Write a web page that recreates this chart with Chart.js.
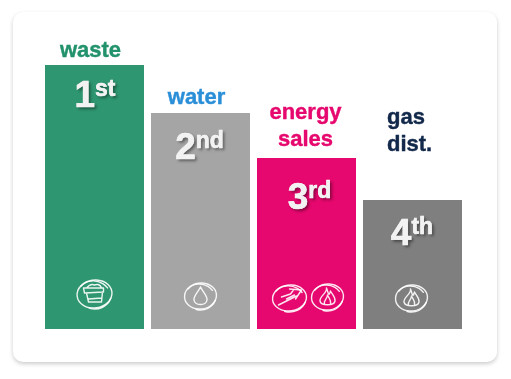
<!DOCTYPE html>
<html>
<head>
<meta charset="utf-8">
<style>
  html, body { margin: 0; padding: 0; background: #fff; }
  #card { position: absolute; left: 13px; top: 12px; width: 484px; height: 350px; background: #fff; border-radius: 10px; box-shadow: 0 2px 4px rgba(0,0,0,.2); }
  #wrap { position: absolute; left: 0; top: 0; width: 511px; height: 379px; }
</style>
<script src="https://cdn.jsdelivr.net/npm/chart.js@4"></script>
</head>
<body>
<div id="card"></div>
<div id="wrap"><canvas id="rank_chart" width="511" height="379"></canvas></div>
<script>
const categories = ['waste', 'water', 'energy sales', 'gas dist.']
const values = [100, 81.8, 64.8, 48.9]
const ranks = ['1', '2', '3', '4']
const rankSuffix = ['st', 'nd', 'rd', 'th']
const barColors = ['#2e9670', '#a5a5a5', '#e6086e', '#7f7f7f']
const nameColors = ['#22926c', '#2b8fd8', '#e6086e', '#13294b']

// label lines, and where they sit (x is from the bar centre, y is above the bar top)
const nameLines = [['waste'], ['water'], ['energy', 'sales'], ['gas', 'dist.']]
const nameOffset = [[-4, 8], [-4, 9], [-1, 12], [-25.5, 49]]
// rank text: shift from the bar centre, and baseline below the bar top
const rankShift = [0.5, -1, 3, -0.5]
const rankDrop = [42, 46, 51, 45]

function ring(ctx, cx, cy, rx, ry) {
  ctx.beginPath()
  ctx.ellipse(cx, cy, rx, ry, -0.12, 0.2, Math.PI * 2 + 0.6)
  ctx.stroke()
  ctx.beginPath()
  ctx.ellipse(cx - 0.5, cy + 0.5, rx - 1.5, ry - 0.5, 0.15, 3.6, 5.6)
  ctx.stroke()
  ctx.beginPath()
  ctx.ellipse(cx + 0.5, cy + 0.5, rx - 1, ry + 0.5, -0.1, 0.4, 2)
  ctx.stroke()
}

function pot(ctx, x, y) {
  ring(ctx, x, y, 17.5, 14)
  ctx.beginPath()
  ctx.moveTo(x - 11, y - 6)
  ctx.lineTo(x + 9, y - 6)
  ctx.lineTo(x + 9, y - 2)
  ctx.lineTo(x - 10, y - 1)
  ctx.closePath()
  ctx.moveTo(x - 8, y - 1)
  ctx.lineTo(x - 6, y + 8)
  ctx.lineTo(x + 7, y + 8)
  ctx.lineTo(x + 8, y - 2)
  ctx.moveTo(x - 6, y + 5)
  ctx.lineTo(x + 7, y + 4)
  ctx.moveTo(x - 8, y - 6)
  ctx.quadraticCurveTo(x - 4, y - 11, x, y - 9)
  ctx.quadraticCurveTo(x + 5, y - 11, x + 7, y - 6)
  ctx.stroke()
}

function drop(ctx, x, y) {
  ring(ctx, x, y, 16, 13)
  ctx.beginPath()
  ctx.moveTo(x, y - 9)
  ctx.bezierCurveTo(x - 3, y - 3, x - 7, y, x - 6.5, y + 4)
  ctx.bezierCurveTo(x - 5.5, y + 10, x + 5.5, y + 10, x + 6.5, y + 4)
  ctx.bezierCurveTo(x + 7, y, x + 3, y - 3, x, y - 9)
  ctx.stroke()
}

function flame(ctx, x, y) {
  ring(ctx, x, y, 16, 13)
  ctx.beginPath()
  ctx.moveTo(x - 1, y - 9)
  ctx.bezierCurveTo(x, y - 4, x - 8, y - 1, x - 7.5, y + 4)
  ctx.bezierCurveTo(x - 6.5, y + 9, x + 6.5, y + 9, x + 7.5, y + 4)
  ctx.bezierCurveTo(x + 8, y, x + 5, y - 2, x + 3, y - 6)
  ctx.quadraticCurveTo(x + 2, y - 2, x + 1, y - 3)
  ctx.quadraticCurveTo(x, y - 6, x - 1, y - 9)
  ctx.moveTo(x - 3, y + 7)
  ctx.bezierCurveTo(x - 4, y + 3, x, y + 2, x, y - 2)
  ctx.bezierCurveTo(x + 2, y + 2, x + 4, y + 3, x + 3, y + 7)
  ctx.stroke()
}

function arrows(ctx, x, y) {
  ring(ctx, x, y, 17, 13)
  ctx.beginPath()
  ctx.moveTo(x - 11, y + 7)
  ctx.lineTo(x + 7, y - 2)
  ctx.moveTo(x - 8, y - 1)
  ctx.lineTo(x + 1, y - 4)
  ctx.moveTo(x - 3, y + 1)
  ctx.lineTo(x + 5, y - 3)
  ctx.moveTo(x, y - 9)
  ctx.lineTo(x + 12, y - 8)
  ctx.lineTo(x + 6, y + 1)
  ctx.moveTo(x + 1, y - 4)
  ctx.lineTo(x + 4, y - 8)
  ctx.stroke()
}

// fill plus a hairline stroke, the source text is heavier than plain bold
function heavyText(ctx, text, x, y, weight) {
  ctx.lineWidth = weight
  ctx.strokeStyle = ctx.fillStyle
  ctx.fillText(text, x, y)
  ctx.strokeText(text, x, y)
}

const overlay = {
  id: 'overlay',
  afterDatasetsDraw(chart) {
    const ctx = chart.ctx
    const bars = chart.getDatasetMeta(0).data
    const bottom = chart.chartArea.bottom
    ctx.save()
    ctx.textBaseline = 'alphabetic'

    bars.forEach((bar, i) => {
      // names over the bars
      ctx.fillStyle = nameColors[i]
      ctx.font = 'bold 22px "Liberation Sans"'
      ctx.textAlign = i == 3 ? 'left' : 'center'
      nameLines[i].forEach((line, k) => {
        let n = nameLines[i].length - 1 - k
        heavyText(ctx, line, bar.x + nameOffset[i][0], bar.y - nameOffset[i][1] - n * 27, 0.4)
      })

      // the rank with raised suffix
      ctx.textAlign = 'left'
      ctx.fillStyle = '#f2f2f2'
      ctx.shadowColor = 'rgba(0,0,0,.45)'
      ctx.shadowBlur = 3
      ctx.shadowOffsetX = 2
      ctx.shadowOffsetY = 2
      ctx.font = 'bold 37px "Liberation Sans"'
      let w1 = ctx.measureText(ranks[i]).width
      ctx.font = 'bold 23px "Liberation Sans"'
      let w2 = ctx.measureText(rankSuffix[i]).width
      let start = bar.x + rankShift[i] - (w1 + w2) / 2
      ctx.font = 'bold 37px "Liberation Sans"'
      ctx.fillText(ranks[i], start, bar.y + rankDrop[i])
      ctx.font = 'bold 23px "Liberation Sans"'
      ctx.fillText(rankSuffix[i], start + w1, bar.y + rankDrop[i] - 11)
      ctx.shadowColor = 'transparent'
      ctx.shadowBlur = 0
      ctx.shadowOffsetX = 0
      ctx.shadowOffsetY = 0
      ctx.font = 'bold 37px "Liberation Sans"'
      heavyText(ctx, ranks[i], start, bar.y + rankDrop[i], 0.6)
      ctx.font = 'bold 23px "Liberation Sans"'
      heavyText(ctx, rankSuffix[i], start + w1, bar.y + rankDrop[i] - 11, 0.5)
    })

    // icons along the bottom of the bars
    ctx.strokeStyle = 'rgba(255,255,255,.9)'
    ctx.lineWidth = 1.4
    ctx.lineCap = 'round'
    ctx.lineJoin = 'round'
    pot(ctx, bars[0].x, bottom - 35)
    drop(ctx, bars[1].x, bottom - 33)
    arrows(ctx, bars[2].x - 17, bottom - 31)
    flame(ctx, bars[2].x + 21, bottom - 32)
    flame(ctx, bars[3].x - 1, bottom - 31)
    ctx.restore()
  }
}

const myChart = new Chart(document.getElementById('rank_chart'), {
  type: 'bar',
  data: {
    labels: categories,
    datasets: [{
      data: values,
      backgroundColor: barColors,
      barPercentage: 0.934,
      categoryPercentage: 1
    }]
  },
  options: {
    responsive: false,
    animation: false,
    layout: { padding: { left: 41.5, right: 45.5, top: 65, bottom: 50 } },
    plugins: { legend: { display: false }, tooltip: { enabled: false } },
    scales: {
      x: { display: false },
      y: { display: false, min: 0, max: 100 }
    }
  },
  plugins: [overlay]
})
</script>
</body>
</html>
